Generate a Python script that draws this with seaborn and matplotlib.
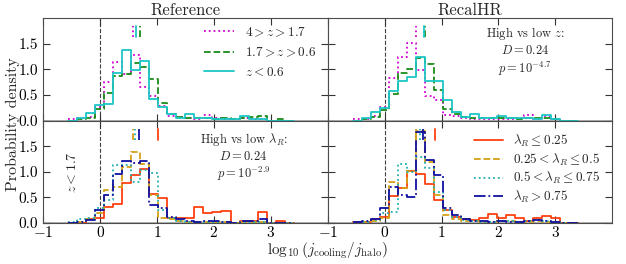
"""
Distribution of log10(j_cooling/j_halo) for the Reference and RecalHR runs,
split by redshift (top row) and by lambda_R (bottom row, z < 1.7).
"""

import numpy as np
import matplotlib
matplotlib.use("Agg")
import matplotlib.pyplot as plt
import seaborn as sns

# bin edges of the histograms (log10 j_cool / j_halo)
edges = [-0.558, -0.400, -0.242, -0.083, 0.075, 0.233, 0.392, 0.550, 0.708,
         0.867, 1.025, 1.183, 1.342, 1.500, 1.658, 1.817, 1.975, 2.133,
         2.292, 2.450, 2.608, 2.767, 2.925, 3.083, 3.242, 3.400]

# top row: redshift bins
ref_z_high = [0.02, 0.04, 0.06, 0.27, 0.75, 1.14, 0.90, 1.28, 0.65, 0.47,
              0.28, 0.08, 0.06, 0.04, 0.02, 0.10, 0.05, 0.03, 0.03, 0.05,
              0.03, 0.02, 0.0, 0.0, 0.0]
ref_z_mid = [0.0, 0.02, 0.04, 0.22, 0.53, 0.87, 0.90, 1.13, 1.05, 0.80,
             0.35, 0.13, 0.07, 0.05, 0.04, 0.05, 0.03, 0.05, 0.03, 0.05,
             0.06, 0.08, 0.0, 0.02, 0.0]
ref_z_low = [0.0, 0.04, 0.15, 0.30, 0.33, 0.92, 1.38, 0.99, 1.17, 0.42,
             0.26, 0.13, 0.05, 0.12, 0.05, 0.05, 0.03, 0.03, 0.02, 0.08,
             0.03, 0.02, 0.0, 0.0, 0.0]
hr_z_high = [0.02, 0.03, 0.08, 0.27, 0.82, 1.23, 1.51, 0.99, 0.47, 0.40,
             0.10, 0.08, 0.04, 0.03, 0.03, 0.03, 0.03, 0.02, 0.04, 0.11,
             0.03, 0.08, 0.02, 0.0, 0.0]
hr_z_mid = [0.0, 0.03, 0.06, 0.20, 0.51, 0.92, 1.01, 1.22, 1.11, 0.60,
            0.23, 0.12, 0.06, 0.05, 0.05, 0.04, 0.05, 0.04, 0.03, 0.05,
            0.05, 0.05, 0.03, 0.0, 0.0]
hr_z_low = [0.0, 0.04, 0.16, 0.25, 0.57, 0.78, 0.85, 1.23, 0.77, 0.77,
            0.40, 0.16, 0.06, 0.12, 0.05, 0.05, 0.08, 0.05, 0.04, 0.04,
            0.03, 0.10, 0.02, 0.0, 0.0]

# bottom row: lambda_R bins
ref_lam1 = [0.0, 0.0, 0.07, 0.10, 0.31, 0.38, 0.78, 0.94, 1.05, 0.57,
            0.48, 0.09, 0.09, 0.09, 0.32, 0.20, 0.22, 0.24, 0.0, 0.04,
            0.04, 0.22, 0.0, 0.05, 0.0]
ref_lam2 = [0.0, 0.02, 0.08, 0.20, 0.64, 0.70, 1.10, 1.38, 1.16, 0.55,
            0.09, 0.07, 0.05, 0.03, 0.02, 0.03, 0.02, 0.02, 0.0, 0.02,
            0.03, 0.02, 0.0, 0.0, 0.0]
ref_lam3 = [0.03, 0.07, 0.10, 0.30, 0.45, 1.13, 1.13, 0.80, 1.03, 0.98,
            0.25, 0.10, 0.05, 0.03, 0.02, 0.02, 0.03, 0.02, 0.0, 0.03,
            0.02, 0.02, 0.0, 0.0, 0.0]
ref_lam4 = [0.0, 0.02, 0.06, 0.25, 0.55, 0.95, 1.22, 1.18, 1.22, 0.35,
            0.30, 0.12, 0.08, 0.05, 0.02, 0.05, 0.04, 0.03, 0.0, 0.05,
            0.05, 0.07, 0.0, 0.0, 0.0]
hr_lam1 = [0.02, 0.03, 0.08, 0.12, 0.52, 0.68, 1.02, 0.96, 0.77, 0.45,
           0.25, 0.12, 0.08, 0.06, 0.10, 0.17, 0.10, 0.16, 0.09, 0.05,
           0.09, 0.14, 0.09, 0.0, 0.0]
hr_lam2 = [0.0, 0.02, 0.05, 0.10, 0.80, 0.68, 1.02, 1.80, 1.20, 0.55,
           0.16, 0.08, 0.05, 0.04, 0.03, 0.03, 0.05, 0.04, 0.03, 0.02,
           0.05, 0.03, 0.02, 0.0, 0.0]
hr_lam3 = [0.02, 0.03, 0.06, 0.20, 0.22, 1.15, 1.00, 1.29, 1.07, 0.60,
           0.25, 0.12, 0.06, 0.05, 0.03, 0.03, 0.05, 0.05, 0.03, 0.05,
           0.06, 0.05, 0.02, 0.0, 0.0]
hr_lam4 = [0.03, 0.05, 0.08, 0.30, 0.71, 0.55, 0.51, 1.78, 1.23, 0.93,
           0.30, 0.15, 0.08, 0.05, 0.04, 0.03, 0.04, 0.03, 0.02, 0.05,
           0.06, 0.05, 0.02, 0.0, 0.0]

# medians drawn as short ticks at the top of each panel
ref_z_med = [0.57, 0.71, 0.63]
hr_z_med = [0.56, 0.71, 0.69]
ref_lam_med = [1.01, 0.58, 0.62, 0.69]
hr_lam_med = [0.88, 0.56, 0.62, 0.67]

z_labels = [r"$4 > z > 1.7$", r"$1.7 > z > 0.6$", r"$z < 0.6$"]
lam_labels = [r"$\lambda_R \leq 0.25$", r"$0.25 < \lambda_R \leq 0.5$",
              r"$0.5 < \lambda_R \leq 0.75$", r"$\lambda_R > 0.75$"]

z_styles = [("#d400d4", ":"), ("#1a8c1a", "--"), ("#1cc6c6", "-")]
lam_styles = [("#ff4010", "-"), ("#d4a017", "--"), ("#20b0b0", ":"),
              ("#1010a0", "-.")]

sns.set_style("ticks")
plt.rcParams["font.family"] = "serif"
plt.rcParams["font.serif"] = ["cmr10", "DejaVu Serif"]
plt.rcParams["mathtext.fontset"] = "cm"
plt.rcParams["axes.formatter.use_mathtext"] = True
plt.rcParams["axes.unicode_minus"] = False


def draw_hists(ax, series, styles, labels):
    centers = 0.5 * (np.array(edges[:-1]) + np.array(edges[1:]))
    for vals, (col, ls), lab in zip(series, styles, labels):
        sns.histplot(x=centers, weights=vals, bins=edges, element="step",
                     fill=False, color=col, linestyle=ls, linewidth=1.3,
                     label=lab, ax=ax)


def draw_medians(ax, meds, styles):
    for m, (col, ls) in zip(meds, styles):
        ax.plot([m, m], [1.62, 1.84], color=col, linestyle=ls, lw=1.3)


fig, axes = plt.subplots(2, 2, figsize=(6.26, 2.64), sharex=True,
                         sharey=True)
plt.subplots_adjust(left=0.069, right=0.978, top=0.932, bottom=0.155,
                    wspace=0, hspace=0)

draw_hists(axes[0, 0], [ref_z_high, ref_z_mid, ref_z_low], z_styles,
           z_labels)
draw_hists(axes[0, 1], [hr_z_high, hr_z_mid, hr_z_low], z_styles, z_labels)
draw_hists(axes[1, 0], [ref_lam1, ref_lam2, ref_lam3, ref_lam4], lam_styles,
           lam_labels)
draw_hists(axes[1, 1], [hr_lam1, hr_lam2, hr_lam3, hr_lam4], lam_styles,
           lam_labels)
draw_medians(axes[0, 0], ref_z_med, z_styles)
draw_medians(axes[0, 1], hr_z_med, z_styles)
draw_medians(axes[1, 0], ref_lam_med, lam_styles)
draw_medians(axes[1, 1], hr_lam_med, lam_styles)

for ax in axes.flat:
    ax.axvline(0, color="0.25", ls="--", lw=0.8, zorder=0)
    ax.axhline(0, color="0.6", lw=1.8, zorder=0)
    ax.set_xlim(-1, 4)
    ax.set_ylim(0, 2)
    ax.set_xticks([-1, 0, 1, 2, 3])
    ax.set_yticks([0, 0.5, 1.0, 1.5])
    ax.set_yticklabels(["0.0", "0.5", "1.0", "1.5"])
    ax.tick_params(direction="in", top=True, right=True, length=5,
                   labelsize=11, width=0.8, colors="0.2", labelcolor="k")
    ax.tick_params(axis="x", pad=1.5)
    ax.set_xlabel("")
    ax.set_ylabel("")
    for sp in ax.spines.values():
        sp.set_color("0.3")
        sp.set_linewidth(0.8)

axes[0, 0].set_title("Reference", fontsize=12, pad=2)
axes[0, 1].set_title("RecalHR", fontsize=12, pad=2)

axes[0, 0].legend(loc="upper right", frameon=False, fontsize=9.5,
                  handlelength=2.3, labelspacing=0.5,
                  bbox_to_anchor=(1.0, 1.045))
axes[1, 1].legend(loc="upper right", frameon=False, fontsize=9.5,
                  handlelength=2.2, labelspacing=0.2,
                  bbox_to_anchor=(1.0, 1.0))

axes[0, 1].text(2.47, 1.35, "High vs low $z$:\n$D = 0.24$\n$p = 10^{-4.7}$",
                ha="center", va="center", fontsize=9, linespacing=1.2)
axes[1, 0].text(2.52, 1.29,
                "High vs low $\\lambda_R$:\n$D = 0.24$\n$p = 10^{-2.9}$",
                ha="center", va="center", fontsize=9, linespacing=1.2)
axes[1, 0].text(-0.48, 1.0, "$z < 1.7$", rotation=90, ha="center",
                va="center", fontsize=10)

fig.text(0.02, 0.53, "Probability density", rotation=90, ha="center",
         va="center", fontsize=11.5)
fig.text(0.523, 0.05, r"$\log_{10}(j_{\rm cooling}/j_{\rm halo})$",
         ha="center", va="center", fontsize=11)

fig.savefig("out.png", dpi=100)
